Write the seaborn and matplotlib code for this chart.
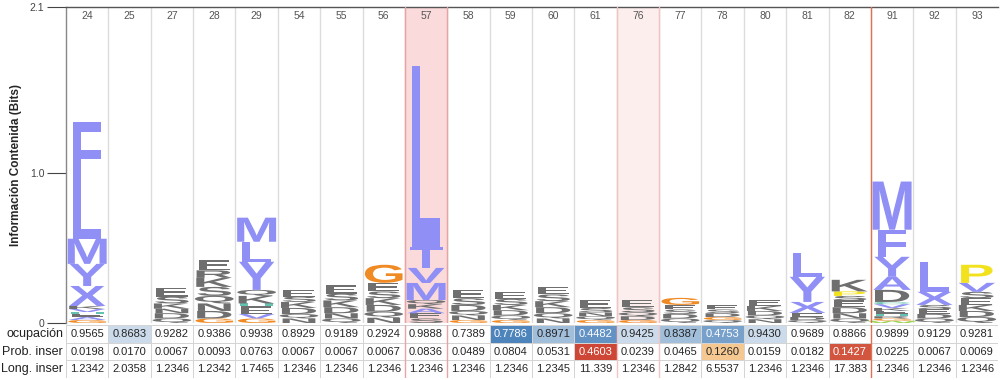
import numpy as np
import pandas as pd
import matplotlib
matplotlib.use("Agg")
import matplotlib.pyplot as plt
import matplotlib.transforms as mtransforms
from matplotlib.colors import LinearSegmentedColormap
from matplotlib.textpath import TextPath
from matplotlib.patches import PathPatch
from matplotlib.font_manager import FontProperties
import seaborn as sns

# posiciones del modelo
positions = ["24", "25", "27", "28", "29", "54", "55", "56", "57", "58", "59",
             "60", "61", "76", "77", "78", "80", "81", "82", "91", "92", "93"]

# pilas de letras (de abajo hacia arriba) y su altura en bits
logo_letters = [
    "GAEHVKXYMLF",
    "",
    "QDNKSE",
    "GDNQSKRE",
    "GVEHKQYLM",
    "NQDKSE",
    "QNDKSE",
    "NQDKSEG",
    "SEAKQMVTL",
    "GNQDSE",
    "GQDKSE",
    "NQDKSE",
    "GQNSE",
    "GDQSE",
    "QDSEG",
    "QGDSE",
    "NQDKE",
    "QDEXYL",
    "QNDESPK",
    "WGRHEKVCDAYFM",
    "QDESXL",
    "QDKESVP",
]
logo_bits = [
    [.02, .02, .02, .013, .02, .02, .133, .147, .167, .387, .387],
    [],
    [.03, .035, .03, .035, .045, .06],
    [.03, .05, .05, .05, .06, .06, .05, .07],
    [.03, .03, .05, .02, .05, .04, .187, .133, .16],
    [.03, .03, .04, .04, .035, .045],
    [.03, .035, .04, .045, .045, .055],
    [.035, .04, .045, .045, .045, .057, .12],
    [.03, .035, .03, .03, .028, .113, .1, .14, 1.2],
    [.02, .03, .03, .04, .045, .055],
    [.02, .03, .035, .035, .04, .047],
    [.03, .035, .04, .04, .045, .05],
    [.02, .025, .025, .03, .053],
    [.02, .025, .025, .035, .048],
    [.03, .03, .03, .03, .047],
    [.02, .02, .025, .025, .03],
    [.025, .025, .03, .033, .04],
    [.02, .02, .027, .073, .167, .16],
    [.03, .035, .04, .045, .03, .03, .077],
    [.015, .015, .015, .015, .02, .02, .025, .015, .08, .087, .133, .18, .32],
    [.03, .03, .03, .03, .087, .2],
    [.04, .04, .04, .045, .042, .06, .12],
]

# filas de la tabla inferior
row_names = ["ocupación", "Prob. inser", "Long. inser"]
ocupacion = ["0.9565", "0.8683", "0.9282", "0.9386", "0.9938", "0.8929", "0.9189",
             "0.2924", "0.9888", "0.7389", "0.7786", "0.8971", "0.4482", "0.9425",
             "0.8387", "0.4753", "0.9430", "0.9689", "0.8866", "0.9899", "0.9129", "0.9281"]
prob_inser = ["0.0198", "0.0170", "0.0067", "0.0093", "0.0763", "0.0067", "0.0067",
              "0.0067", "0.0836", "0.0489", "0.0804", "0.0531", "0.4603", "0.0239",
              "0.0465", "0.1260", "0.0159", "0.0182", "0.1427", "0.0225", "0.0067", "0.0069"]
long_inser = ["1.2342", "2.0358", "1.2346", "1.2342", "1.7465", "1.2346", "1.2346",
              "1.2346", "1.2346", "1.2346", "1.2346", "1.2345", "11.339", "1.2346",
              "1.2842", "6.5537", "1.2346", "1.2346", "17.383", "1.2346", "1.2346", "1.2346"]
# puntuación de color de cada celda (-1 azul, 0 blanco, +1 rojo)
ocupacion_score = [0, -.25, 0, 0, 0, 0, 0, 0, 0, 0, -.85, -.45, -.75,
                   -.25, -.45, -.65, -.25, 0, 0, 0, 0, 0]
prob_score = [0, 0, 0, 0, 0, 0, 0, 0, 0, 0, 0, 0, .9,
              0, 0, .4, 0, 0, .85, 0, 0, 0]
long_score = [0] * len(positions)

hmm_colors = {
    "A": "#8f8ff5", "C": "#66c2b0", "F": "#8f8ff5", "I": "#8f8ff5", "L": "#8f8ff5",
    "M": "#8f8ff5", "V": "#8f8ff5", "X": "#8f8ff5", "Y": "#8f8ff5",
    "T": "#8f8ff5", "G": "#f08a24", "P": "#f2e21e", "H": "#66c2b0", "W": "#9fd45a",
    "N": "#6f6f6f", "D": "#6f6f6f", "E": "#6f6f6f", "K": "#6f6f6f", "Q": "#6f6f6f",
    "R": "#6f6f6f", "S": "#6f6f6f",
}

sns.set_theme(style="white")
plt.rcParams["font.family"] = ["Liberation Sans", "DejaVu Sans"]

LETTER_FP = FontProperties(family="Liberation Sans", weight="bold")
_ref = TextPath((0, 0), "M", size=1, prop=LETTER_FP).get_extents()


def draw_letter(ax, ch, x_center, y, width, height, color):
    tp = TextPath((0, 0), ch, size=1, prop=LETTER_FP)
    bb = tp.get_extents()
    sx = width / _ref.width
    tr = (mtransforms.Affine2D()
          .translate(-bb.x0 - bb.width / 2, -bb.y0)
          .scale(sx, height / bb.height)
          .translate(x_center, y))
    ax.add_patch(PathPatch(tr.transform_path(tp), fc=color, ec="none", lw=0, zorder=3))


fig = plt.figure(figsize=(10, 3.8), dpi=100)
ax = fig.add_axes([0.066, 0.15, 0.932, 0.8316])
tab = fig.add_axes([0.066, 0.005, 0.932, 0.139])

n = len(positions)
ax.set_xlim(0, n)
ax.set_ylim(0, 2.1)

# columnas resaltadas
ax.axvspan(8, 9, color="#fadada", zorder=0)
ax.axvspan(13, 14, color="#fdeeee", zorder=0)
for i in range(1, n):
    ax.axvline(i, color="#dcdcdc", lw=1, zorder=1)

for i, (letters, bits) in enumerate(zip(logo_letters, logo_bits)):
    base = 0.0
    for ch, h in zip(letters, bits):
        draw_letter(ax, ch, i + 0.5, base, 0.92, h, hmm_colors[ch])
        base += h

trans = mtransforms.blended_transform_factory(ax.transData, ax.transAxes)
for i, lab in enumerate(positions):
    ax.text(i + 0.5, 0.972, lab, transform=trans, ha="center", va="center",
            fontsize=7.5, color="#555555")

ax.set_xticks([])
ax.set_yticks([0, 1.0, 2.1])
ax.set_yticklabels(["0", "1.0", "2.1"])
ax.tick_params(axis="y", length=13.5, width=0.8, color="#444444", labelsize=7.5,
               labelcolor="#444444", left=True, pad=2)
ax.set_ylabel("Información Contenida (Bits)", fontsize=8.5, fontweight="bold", labelpad=6)
for s in ["right", "bottom"]:
    ax.spines[s].set_visible(False)
ax.spines["top"].set_color("#555555")
ax.spines["left"].set_color("#888888")
ax.spines["top"].set_linewidth(1)
ax.spines["left"].set_linewidth(1)

# tabla inferior
scores = pd.DataFrame([ocupacion_score, prob_score, long_score], index=row_names, columns=positions)
labels = np.array([ocupacion, prob_inser, long_inser])
cmap = LinearSegmentedColormap.from_list(
    "occ", [(0, "#2f6fb0"), (0.5, "#ffffff"), (0.7, "#f6c992"), (1, "#c62f25")])
sns.heatmap(scores, ax=tab, cmap=cmap, vmin=-1, vmax=1, cbar=False,
            annot=labels, fmt="", annot_kws={"fontsize": 8},
            xticklabels=False, yticklabels=row_names,
            linewidths=0.6, linecolor="#d4d4d4")
tab.set_yticklabels(row_names, rotation=0, fontsize=9, color="#222222")
tab.tick_params(axis="y", length=0, pad=2)

for axx in (ax, tab):
    axx.axvline(8, color="#e9a3a3", lw=1, zorder=5)
    axx.axvline(9, color="#e9a3a3", lw=1, zorder=5)
    axx.axvline(13, color="#f2c4c4", lw=1, zorder=5)
    axx.axvline(14, color="#f2c4c4", lw=1, zorder=5)
    axx.axvline(19, color="#e0734f", lw=1, zorder=5)

fig.savefig("out.png", dpi=100)
